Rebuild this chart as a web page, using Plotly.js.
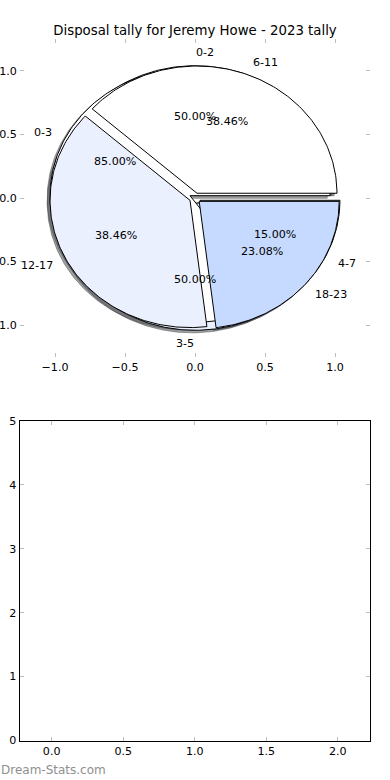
<!DOCTYPE html>
<html><head><meta charset="utf-8">
<script src="https://cdn.plot.ly/plotly-3.0.1.min.js"></script>
<style>html,body{margin:0;padding:0;background:#fff}#chart{width:390px;height:780px}</style>
</head><body><div id="chart"></div>
<script>
// ---- data ----
const chartTitle = 'Disposal tally for Jeremy Howe - 2023 tally';
const pie1Labels = ['0-2', '3-5'];
const pie1Values = [10, 10];
const pie2Labels = ['0-3', '4-7'];
const pie2Values = [17, 3];
const pie3Labels = ['6-11', '12-17', '18-23'];
const pie3Values = [5, 5, 3];
const sliceColors = ['#ffffff', '#eaf0fe', '#c6d9fe'];
const pieTickVals = [-1, -0.5, 0, 0.5, 1];
const barXTickVals = [0, 0.5, 1, 1.5, 2];
const barYTickVals = [0, 1, 2, 3, 4, 5];
const watermark = 'Dream-Stats.com';

// ---- styling constants ----
const EXPLODE = 0.04, SHADOW = 0.02, LABEL_D = 1.1, PCT_D = 0.6;
const W = 390, H = 780;
const TXT = 11.1, TITLE = 13.3;

function hexToRgb(h){const n=parseInt(h.slice(1),16);return [(n>>16)&255,(n>>8)&255,n&255];}

function buildPie(labels, values){
  const total = values.reduce((a,b)=>a+b,0);
  let acc = 0;
  return values.map((v,i)=>{
    const f1 = acc/total, f2 = (acc+v)/total; acc += v;
    const tm = Math.PI*(f1+f2);
    const cx = EXPLODE*Math.cos(tm), cy = EXPLODE*Math.sin(tm);
    const xs=[cx], ys=[cy];
    const n = Math.max(4, Math.ceil((f2-f1)*360));
    for(let k=0;k<=n;k++){
      const t = 2*Math.PI*(f1+(f2-f1)*k/n);
      xs.push(cx+Math.cos(t)); ys.push(cy+Math.sin(t));
    }
    xs.push(cx); ys.push(cy);
    return {label:labels[i], frac:v/total, tm, cx, cy, xs, ys, color:sliceColors[i%sliceColors.length]};
  });
}

const pies = [buildPie(pie1Labels,pie1Values), buildPie(pie2Labels,pie2Values), buildPie(pie3Labels,pie3Values)];

const traces = [];
// shadows first (lower zorder)
pies.forEach(p=>p.forEach(w=>{
  const c = hexToRgb(w.color).map(v=>Math.round(v*0.3));
  const col = `rgba(${c[0]},${c[1]},${c[2]},0.5)`;
  traces.push({type:'scatter', mode:'lines', x:w.xs.map(v=>v-SHADOW), y:w.ys.map(v=>v-SHADOW),
    fill:'toself', fillcolor:col, line:{color:col,width:1}, hoverinfo:'skip', showlegend:false, xaxis:'x', yaxis:'y'});
}));
// wedges
pies.forEach(p=>p.forEach(w=>{
  traces.push({type:'scatter', mode:'lines', x:w.xs, y:w.ys, fill:'toself', fillcolor:w.color,
    line:{color:'#000',width:1}, name:w.label, hoverinfo:'skip', showlegend:false, xaxis:'x', yaxis:'y'});
}));
// bottom empty axes placeholder
traces.push({type:'scatter', mode:'markers', x:[], y:[], xaxis:'x2', yaxis:'y2', showlegend:false});

const annotations = [];
pies.forEach(p=>p.forEach(w=>{
  const lx = w.cx + LABEL_D*Math.cos(w.tm), ly = w.cy + LABEL_D*Math.sin(w.tm);
  annotations.push({x:lx, y:ly, xref:'x', yref:'y', text:w.label, showarrow:false,
    xanchor: lx>0?'left':'right', yanchor:'middle', font:{size:TXT,color:'#000'}, borderpad:0});
  const px = w.cx + PCT_D*Math.cos(w.tm), py = w.cy + PCT_D*Math.sin(w.tm);
  annotations.push({x:px, y:py, xref:'x', yref:'y', text:(w.frac*100).toFixed(2)+'%', showarrow:false,
    xanchor:'center', yanchor:'middle', font:{size:TXT,color:'#000'}, borderpad:0});
}));
annotations.push({xref:'paper', yref:'paper', x:0, y:1-770/H, text:watermark, showarrow:false,
  xanchor:'left', yanchor:'middle', font:{size:12,color:'#8f8f8f'}, borderpad:0});

const tickCommon = {ticks:'inside', ticklen:4, tickwidth:1, tickcolor:'#bdbdbd', showgrid:false, zeroline:false,
  mirror:'ticks', showline:true, tickfont:{size:TXT,color:'#000'}, fixedrange:true};

const layout = {
  width:W, height:H, margin:{l:0,r:0,t:0,b:0}, paper_bgcolor:'#fff', plot_bgcolor:'#fff',
  font:{family:'DejaVu Sans, sans-serif', color:'#000'}, showlegend:false,
  title:{text:chartTitle, x:0.5, xanchor:'center', y:1-30/H, yanchor:'middle', font:{size:TITLE,color:'#000'}},
  xaxis:Object.assign({}, tickCommon, {domain:[20/W,370/W], range:[-1.25,1.25], tickvals:pieTickVals, tickformat:'.1f', anchor:'y', linecolor:'rgba(0,0,0,0)'}),
  yaxis:Object.assign({}, tickCommon, {domain:[1-357/H,1-39/H], range:[-1.25,1.25], tickvals:pieTickVals, tickformat:'.1f', anchor:'x', linecolor:'rgba(0,0,0,0)'}),
  xaxis2:Object.assign({}, tickCommon, {domain:[19.5/W,370/W], range:[-0.225,2.225], tickvals:barXTickVals, tickformat:'.1f', anchor:'y2', linecolor:'#000', linewidth:1}),
  yaxis2:Object.assign({}, tickCommon, {domain:[1-740.5/H,1-421/H], range:[0,5], tickvals:barYTickVals, tickformat:'d', anchor:'x2', linecolor:'#000', linewidth:1}),
  annotations
};
Plotly.newPlot('chart', traces, layout, {staticPlot:true, displayModeBar:false});
</script></body></html>
